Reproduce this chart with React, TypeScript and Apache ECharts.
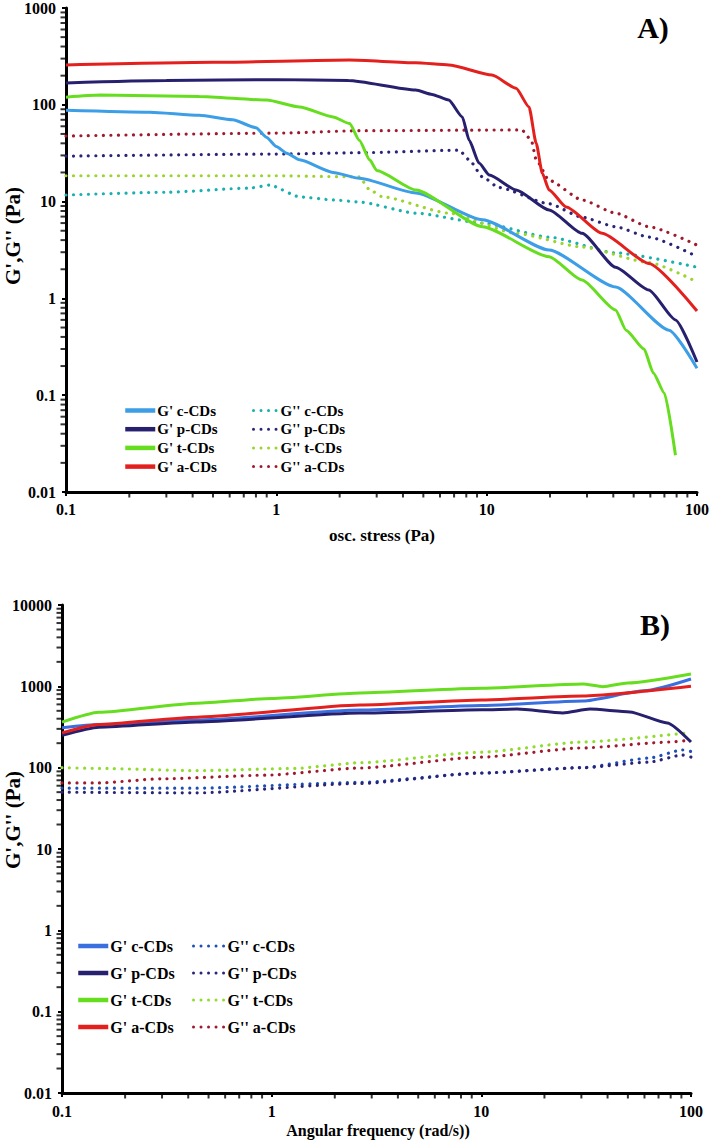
import React, { useEffect, useRef } from "react";
import * as echarts from "echarts";

// ---------- Data: chart A (oscillation stress sweep) ----------
const A_Gp_c: [number, number][] = [[0.1, 88], [0.25, 84], [0.43, 78], [0.62, 70], [0.8, 58], [0.9, 46], [1.0, 37], [1.12, 31.6], [1.29, 27], [1.86, 20], [2.48, 17.4], [4.6, 12.3], [9.55, 6.5], [19.8, 3.16], [41, 1.31], [73.6, 0.47], [100, 0.19]];
const A_Gp_p: [number, number][] = [[0.1, 168], [0.3, 178], [1, 182], [2.2, 178], [4.6, 142], [5.5, 128], [6.6, 112], [7.66, 75], [8.26, 43], [9.2, 25], [10.3, 18.8], [13.8, 13.2], [19.8, 8.2], [28.4, 4.7], [41, 2.1], [59, 1.22], [79, 0.6], [100, 0.22]];
const A_Gp_t: [number, number][] = [[0.1, 120], [0.145, 126], [0.43, 122], [0.9, 112], [1.29, 95], [1.86, 75], [2.23, 64], [2.48, 43], [2.78, 27], [3.0, 21], [4.6, 13.2], [9.55, 5.5], [19.8, 2.7], [28.4, 1.55], [41, 0.76], [46, 0.47], [56, 0.3], [62, 0.17], [70, 0.105], [79, 0.024]];
const A_Gp_a: [number, number][] = [[0.1, 258], [0.5, 275], [2.23, 290], [4.6, 272], [6.6, 258], [10.6, 203], [13.8, 148], [15.9, 95], [17.2, 40], [18.4, 19.5], [19.8, 13.2], [23.9, 8.8], [35.4, 4.7], [59, 2.3], [100, 0.74]];
const A_Gpp_c: [number, number][] = [[0.1, 11.7], [0.3, 12.5], [0.75, 13.8], [0.93, 14.8], [1.29, 11.2], [1.86, 10.4], [2.48, 9.9], [4.6, 7.6], [9.55, 6], [19.8, 4.3], [41, 2.95], [100, 2.1]];
const A_Gpp_p: [number, number][] = [[0.1, 29.5], [1, 31], [2.48, 32], [7.4, 34], [8.26, 27], [9.55, 18], [11.4, 14], [19.8, 9.5], [28.4, 6.9], [41, 5.5], [59, 4.3], [100, 2.7]];
const A_Gpp_t: [number, number][] = [[0.1, 18.5], [1, 18.5], [2.48, 18], [2.78, 13.2], [3.2, 11.2], [6.6, 7.6], [13.8, 4.7], [28.4, 3.4], [59, 2.35], [100, 1.48]];
const A_Gpp_a: [number, number][] = [[0.1, 47.6], [1, 51], [2.48, 54], [14.7, 55], [16.3, 43], [17.2, 27], [19.8, 16.6], [28.4, 10.4], [41, 7.6], [59, 5.5], [100, 3.55]];

// ---------- Data: chart B (frequency sweep) ----------
const B_Gp_c: [number, number][] = [[0.1, 310], [0.15, 340], [0.44, 385], [2.64, 510], [10, 580], [30.5, 660], [60, 880], [100, 1230]];
const B_Gp_p: [number, number][] = [[0.1, 250], [0.15, 315], [0.44, 365], [2.64, 470], [10, 515], [14.8, 525], [24.5, 470], [33, 525], [51, 485], [77, 355], [100, 207]];
const B_Gp_t: [number, number][] = [[0.1, 363], [0.15, 480], [0.44, 620], [1, 710], [2.64, 830], [10, 950], [30.5, 1070], [38, 990], [50, 1100], [100, 1420]];
const B_Gp_a: [number, number][] = [[0.1, 268], [0.15, 340], [0.44, 418], [2.64, 590], [10, 680], [30.5, 760], [100, 1000]];
const B_Gpp_c: [number, number][] = [[0.1, 56], [0.44, 56], [2.64, 66], [10, 86], [30.5, 100], [63, 131], [91, 165], [100, 158]];
const B_Gpp_p: [number, number][] = [[0.1, 50], [0.44, 49], [2.64, 64], [10, 86], [30.5, 100], [63, 117], [91, 143], [100, 135]];
const B_Gpp_t: [number, number][] = [[0.1, 100], [0.15, 98], [0.44, 92], [1.3, 98], [2.64, 115], [10, 155], [30.5, 207], [100, 270]];
const B_Gpp_a: [number, number][] = [[0.1, 65], [0.15, 65], [0.3, 73], [0.95, 81], [2.64, 99], [10, 135], [30.5, 175], [80, 207], [100, 218]];

const NAMES_GP = ["G' c-CDs", "G' p-CDs", "G' t-CDs", "G' a-CDs"];
const NAMES_GPP = ["G'' c-CDs", "G'' p-CDs", "G'' t-CDs", "G'' a-CDs"];

const A_X_RANGE = [0.1, 100];
const A_Y_RANGE = [0.01, 1000];
const B_X_RANGE = [0.1, 100];
const B_Y_RANGE = [0.01, 10000];

const COLORS_A_GP = ["#3c9ee6", "#27206e", "#66dd1f", "#e3201d"];
const COLORS_A_GPP = ["#19b0ae", "#2a2478", "#9ad42c", "#a01a2e"];
const COLORS_B_GP = ["#3a6fe0", "#27206e", "#66dd1f", "#e3201d"];
const COLORS_B_GPP = ["#1d4fb5", "#2a2478", "#8fdc2c", "#a01a2e"];

const FONT = "'Liberation Serif', 'Times New Roman', serif";

function minorValues(lo: number, hi: number): number[] {
  const out: number[] = [];
  for (let d = lo; d < hi * 0.999; d *= 10) {
    for (let k = 2; k <= 9; k++) out.push(parseFloat((d * k).toPrecision(3)));
  }
  return out;
}

const fmt = (v: number) => String(parseFloat(Number(v).toPrecision(4)));

function axis(range: number[], labelMargin: number) {
  return {
    type: "log",
    logBase: 10,
    min: range[0],
    max: range[1],
    axisLine: { show: true, lineStyle: { color: "#000", width: 3 } },
    axisTick: { show: true, inside: false, length: 4, lineStyle: { color: "#000", width: 2 } },
    splitLine: { show: false },
    minorTick: { show: false },
    axisLabel: { color: "#000", fontFamily: FONT, fontWeight: "bold", fontSize: 16, margin: labelMargin, formatter: fmt },
  };
}

function lineSeries(name: string, data: [number, number][], color: string, dotted: boolean) {
  return {
    type: "line",
    name,
    data,
    symbol: "none",
    smooth: 0.2,
    smoothMonotone: "x",
    z: 3,
    lineStyle: dotted
      ? { color, width: 3.2, type: [0.01, 7.5], cap: "round" }
      : { color, width: 3 },
    itemStyle: { color },
  };
}

function tickSeries(xr: number[], yr: number[]) {
  const xs = minorValues(xr[0], xr[1]).map((v) => [v, yr[0]]);
  const ys = minorValues(yr[0], yr[1]).map((v) => [xr[0], v]);
  return [
    {
      type: "scatter", name: "_xt", data: xs, symbol: "rect", symbolSize: [2, 5], symbolOffset: [0, 3],
      itemStyle: { color: "#000" }, silent: true, clip: false, z: 1,
    },
    {
      type: "scatter", name: "_yt", data: ys, symbol: "rect", symbolSize: [5, 2], symbolOffset: [-3, 0],
      itemStyle: { color: "#000" }, silent: true, clip: false, z: 1,
    },
  ];
}

function legend(left: number, top: number, w: number, gap: number, names: string[], solid: boolean, fs: number) {
  return {
    orient: "vertical", left, top, padding: 0, itemWidth: w, itemHeight: 14, itemGap: gap,
    data: names, selectedMode: false,
    itemStyle: { opacity: 0 },
    lineStyle: solid ? { width: 4.5, cap: "butt" } : { width: 3, cap: "round" },
    textStyle: { color: "#000", fontFamily: FONT, fontWeight: "bold", fontSize: fs, padding: [0, 0, 0, -3] },
  };
}

function buildA() {
  return {
    animation: false,
    backgroundColor: "#fff",
    grid: { left: 66, top: 8, width: 632, height: 484 },
    xAxis: axis(A_X_RANGE, 9),
    yAxis: axis(A_Y_RANGE, 10),
    legend: [
      legend(123, 403, 30, 3.7, NAMES_GP, true, 15),
      legend(252, 403, 25, 3.7, NAMES_GPP, false, 15),
    ],
    series: [
      ...tickSeries(A_X_RANGE, A_Y_RANGE),
      lineSeries(NAMES_GPP[0], A_Gpp_c, COLORS_A_GPP[0], true),
      lineSeries(NAMES_GPP[1], A_Gpp_p, COLORS_A_GPP[1], true),
      lineSeries(NAMES_GPP[2], A_Gpp_t, COLORS_A_GPP[2], true),
      lineSeries(NAMES_GPP[3], A_Gpp_a, COLORS_A_GPP[3], true),
      lineSeries(NAMES_GP[0], A_Gp_c, COLORS_A_GP[0], false),
      lineSeries(NAMES_GP[1], A_Gp_p, COLORS_A_GP[1], false),
      lineSeries(NAMES_GP[2], A_Gp_t, COLORS_A_GP[2], false),
      lineSeries(NAMES_GP[3], A_Gp_a, COLORS_A_GP[3], false),
    ],
    graphic: [
      { type: "text", x: 653, y: 27, style: { text: "A)", fill: "#000", font: `bold 30px ${FONT}`, align: "center", verticalAlign: "middle" } },
      { type: "text", x: 13, y: 236, rotation: Math.PI / 2, style: { text: "G',G'' (Pa)", fill: "#000", font: `bold 21px ${FONT}`, align: "center", verticalAlign: "middle" } },
      { type: "text", x: 382, y: 535, style: { text: "osc. stress (Pa)", fill: "#000", font: `bold 17px ${FONT}`, align: "center", verticalAlign: "middle" } },
    ],
  };
}

function buildB() {
  return {
    animation: false,
    backgroundColor: "#fff",
    grid: { left: 62, top: 30, width: 629, height: 488 },
    xAxis: axis(B_X_RANGE, 10),
    yAxis: axis(B_Y_RANGE, 10),
    legend: [
      legend(76, 363, 30, 11, NAMES_GP, true, 16),
      legend(192, 363, 32, 11, NAMES_GPP, false, 16),
    ],
    series: [
      ...tickSeries(B_X_RANGE, B_Y_RANGE),
      lineSeries(NAMES_GPP[0], B_Gpp_c, COLORS_B_GPP[0], true),
      lineSeries(NAMES_GPP[1], B_Gpp_p, COLORS_B_GPP[1], true),
      lineSeries(NAMES_GPP[2], B_Gpp_t, COLORS_B_GPP[2], true),
      lineSeries(NAMES_GPP[3], B_Gpp_a, COLORS_B_GPP[3], true),
      lineSeries(NAMES_GP[0], B_Gp_c, COLORS_B_GP[0], false),
      lineSeries(NAMES_GP[1], B_Gp_p, COLORS_B_GP[1], false),
      lineSeries(NAMES_GP[2], B_Gp_t, COLORS_B_GP[2], false),
      lineSeries(NAMES_GP[3], B_Gp_a, COLORS_B_GP[3], false),
    ],
    graphic: [
      { type: "text", x: 655, y: 49, style: { text: "B)", fill: "#000", font: `bold 30px ${FONT}`, align: "center", verticalAlign: "middle" } },
      { type: "text", x: 13, y: 245, rotation: Math.PI / 2, style: { text: "G',G'' (Pa)", fill: "#000", font: `bold 21px ${FONT}`, align: "center", verticalAlign: "middle" } },
      { type: "text", x: 378, y: 555, style: { text: "Angular frequency (rad/s))", fill: "#000", font: `bold 16px ${FONT}`, align: "center", verticalAlign: "middle" } },
    ],
  };
}

function Chart({ top, height, build }: { top: number; height: number; build: () => any }) {
  const ref = useRef<HTMLDivElement>(null);
  useEffect(() => {
    if (!ref.current) return;
    const chart = echarts.init(ref.current, undefined, { renderer: "svg" });
    chart.setOption(build());
    return () => chart.dispose();
  }, [build]);
  return <div ref={ref} style={{ position: "absolute", left: 0, top, width: 712, height }} />;
}

export default function App() {
  return (
    <div style={{ position: "absolute", left: 0, top: 0, width: 712, height: 1147, background: "#fff" }}>
      <Chart top={0} height={575} build={buildA} />
      <Chart top={575} height={572} build={buildB} />
    </div>
  );
}
